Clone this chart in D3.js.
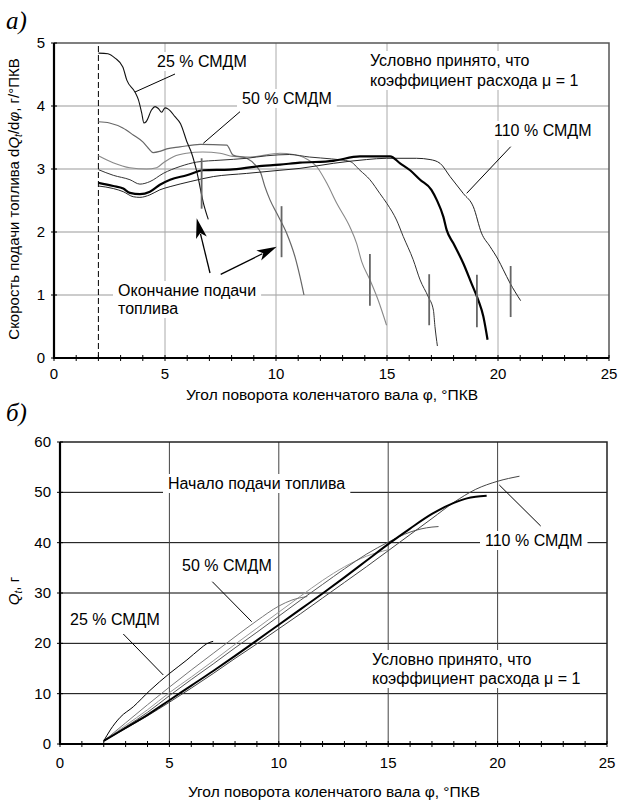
<!DOCTYPE html>
<html>
<head>
<meta charset="utf-8">
<script src="https://cdn.jsdelivr.net/npm/d3@7"></script>
<style>
  body { margin: 0; background: #fff; }
  text { font-family: "Liberation Sans", Arial, sans-serif; fill: #000; }
</style>
</head>
<body>
<script>
// axis ticks
var xTicks = [0, 5, 10, 15, 20, 25];
var rateTicks = [0, 1, 2, 3, 4, 5];
var massTicks = [0, 10, 20, 30, 40, 50, 60];

// а) injection rate dQ/dphi, g/deg
var rate25 = [[2,4.84],[2.43,4.83],[2.75,4.76],[3.1,4.62],[3.28,4.41],[3.65,4.22],[3.8,4.1],[3.95,3.89],[4.05,3.73],[4.15,3.75],[4.4,3.94],[4.55,3.99],[4.7,3.96],[4.85,3.9],[5.0,3.97],[5.15,3.95],[5.45,3.83],[5.7,3.72],[6.0,3.42],[6.2,3.25],[6.45,2.93],[6.73,2.46],[6.95,2.2]];
var rate50 = [[2,3.75],[2.5,3.73],[3.1,3.65],[3.57,3.54],[4.0,3.43],[4.25,3.33],[4.47,3.26],[4.77,3.28],[5.08,3.32],[5.67,3.35],[6.58,3.39],[7.78,3.38],[8.07,3.22],[8.68,3.17],[9.1,3.05],[9.3,2.95],[9.5,2.72],[9.73,2.51],[10.03,2.3],[10.48,1.98],[10.86,1.6],[11.08,1.29],[11.26,1.0]];
var rate3 = [[2,3.21],[2.66,3.1],[3.42,3.02],[4.17,3.0],[4.62,3.02],[4.93,3.1],[5.4,3.2],[5.97,3.25],[6.7,3.27],[7.48,3.25],[8.07,3.2],[8.83,3.19],[10.18,3.25],[10.78,3.23],[11.38,3.16],[11.83,3.04],[12.28,2.78],[12.73,2.46],[13.33,2.08],[13.63,1.82],[13.86,1.53],[14.23,1.24],[14.6,0.92],[14.98,0.52]];
var rate4 = [[2,2.99],[2.67,2.9],[3.42,2.83],[3.87,2.76],[4.32,2.8],[4.92,2.93],[5.68,3.04],[6.43,3.11],[7.48,3.14],[8.68,3.17],[9.58,3.21],[10.6,3.23],[11.5,3.19],[12.5,3.16],[13.33,3.12],[13.78,2.98],[14.23,2.83],[14.68,2.61],[15.0,2.45],[15.43,2.19],[15.73,1.93],[16.18,1.56],[16.49,1.24],[16.86,0.97],[17.09,0.76],[17.16,0.5],[17.27,0.19]];
var rate100 = [[2,2.78],[2.67,2.73],[3.12,2.69],[3.42,2.62],[3.87,2.6],[4.32,2.64],[4.77,2.75],[5.23,2.83],[5.98,2.9],[6.73,2.98],[7.93,2.99],[9.13,3.04],[10.18,3.07],[11.08,3.1],[12.58,3.13],[13.78,3.2],[15.14,3.2],[15.59,3.09],[16.04,2.98],[16.49,2.83],[17.0,2.67],[17.24,2.51],[17.54,2.24],[17.69,2.03],[17.99,1.82],[18.44,1.5],[18.81,1.18],[19.11,0.92],[19.34,0.66],[19.53,0.29]];
var rate110 = [[2,2.73],[2.67,2.69],[3.12,2.64],[3.57,2.56],[3.87,2.55],[4.32,2.59],[4.77,2.67],[5.23,2.72],[6.13,2.8],[7.18,2.88],[8.68,2.93],[10.18,2.98],[11.08,3.01],[12.58,3.09],[14.08,3.15],[14.98,3.17],[16.33,3.17],[16.94,3.15],[17.39,3.09],[17.84,2.88],[18.44,2.61],[18.89,2.4],[19.26,1.98],[19.64,1.77],[20.01,1.56],[20.24,1.4],[20.54,1.19],[20.77,1.05],[21.02,0.91]];
// end of injection marks: [phi, rate low, rate high]
var endMarks = [[6.65,2.37,3.17],[10.25,1.6,2.41],[14.23,0.83,1.65],[16.9,0.52,1.33],[19.05,0.49,1.32],[20.57,0.65,1.46]];
var startPhi = 2;

// б) cumulative fuel Q, g
var mass25 = [[2,0.6],[2.3,2.8],[2.75,5.3],[3.35,7.4],[4.1,10.6],[5.0,14.0],[5.8,16.7],[6.4,18.9],[6.7,19.9],[7.0,20.4]];
var mass50 = [[2,0.6],[3,4.2],[4,7.8],[5,11.3],[6,14.7],[7,18.0],[8,21.3],[9,24.5],[10,27.4],[10.6,28.6],[11.3,29.3]];
var mass3 = [[2,0.6],[3,3.7],[4,6.8],[5,10.2],[6,13.3],[7,16.5],[8,19.8],[9,23.0],[10,26.2],[11,29.4],[12,32.5],[13,35.2],[14,37.3],[15,38.6]];
var mass4 = [[2,0.6],[3,3.4],[4,6.3],[5,9.6],[6,12.8],[7,15.9],[8,19.1],[9,22.2],[10,25.4],[11,28.6],[12,31.7],[13,34.8],[14,37.7],[15,40.1],[16,42.1],[17,43.1],[17.3,43.2]];
var mass100 = [[2,0.6],[3,3.2],[4,5.8],[5,8.7],[6,11.6],[7,14.5],[8,17.5],[9,20.6],[10,23.7],[11,26.8],[12,29.9],[13,33.1],[14,36.4],[15,39.7],[16,42.8],[17,45.7],[18,47.9],[18.6,48.8],[19,49.1],[19.5,49.3]];
var mass110 = [[2,0.6],[3,3.1],[4,5.6],[5,8.3],[6,11.1],[7,14.0],[8,17.0],[9,19.9],[10,22.9],[11,25.9],[12,29.0],[13,32.1],[14,35.2],[15,38.4],[16,41.6],[17,44.8],[18,48.0],[19,50.6],[20,52.2],[21,53.2]];

var svg = d3.select("body").append("svg")
    .attr("width", 618)
    .attr("height", 800);

var xA = d3.scaleLinear().domain([0, 25]).range([54, 609]);
var yA = d3.scaleLinear().domain([0, 5]).range([358, 43]);
var xB = d3.scaleLinear().domain([0, 25]).range([60, 607]);
var yB = d3.scaleLinear().domain([0, 60]).range([744, 442]);

function label(g, lines, x, y, dy, size) {
    var t = g.append("text").attr("x", x).attr("y", y).style("font-size", size + "px");
    lines.forEach(function(s, i) {
        t.append("tspan").attr("x", x).attr("dy", i == 0 ? 0 : dy).text(s);
    });
    var b = t.node().getBBox();
    g.insert("rect", "text:last-child")
        .attr("x", b.x - 5).attr("y", b.y - 1)
        .attr("width", b.width + 10).attr("height", b.height + 2)
        .attr("fill", "#fff");
    return t;
}

function leader(g, x1, y1, x2, y2) {
    g.append("line").attr("x1", x1).attr("y1", y1).attr("x2", x2).attr("y2", y2)
        .attr("stroke", "#000").attr("stroke-width", 1);
}

function arrow(g, x1, y1, x2, y2) {
    var dx = x2 - x1, dy = y2 - y1, len = Math.sqrt(dx*dx + dy*dy);
    var ux = dx / len, uy = dy / len, hl = 20, hw = 5.5;
    var bx = x2 - ux * hl, by = y2 - uy * hl;
    g.append("line").attr("x1", x1).attr("y1", y1).attr("x2", bx + ux*4).attr("y2", by + uy*4)
        .attr("stroke", "#000").attr("stroke-width", 1.3);
    g.append("polygon")
        .attr("points", [[x2, y2], [bx - uy*hw, by + ux*hw], [bx + ux*5, by + uy*5], [bx + uy*hw, by - ux*hw]].join(" "))
        .attr("fill", "#000");
}

function panel(x, y, xt, yt, gridCol, vGridCol, frameCol) {
    var g = svg.append("g");
    // grid
    g.selectAll(".hg").data(yt.slice(1, -1)).enter().append("line")
        .attr("x1", x.range()[0]).attr("x2", x.range()[1])
        .attr("y1", d => y(d)).attr("y2", d => y(d))
        .attr("stroke", gridCol).attr("stroke-width", 1);
    g.selectAll(".vg").data(xt.slice(1, -1)).enter().append("line")
        .attr("y1", y.range()[0]).attr("y2", y.range()[1])
        .attr("x1", d => x(d)).attr("x2", d => x(d))
        .attr("stroke", vGridCol).attr("stroke-width", 1);
    // frame top/right
    g.append("path")
        .attr("d", "M" + x.range()[0] + "," + y.range()[1] + "H" + x.range()[1] + "V" + y.range()[0])
        .attr("fill", "none").attr("stroke", frameCol).attr("stroke-width", 1.5);
    return g;
}

function axes(g, x, y, xt, yt, xLabY) {
    var x0 = x.range()[0], y0 = y.range()[0];
    // minor ticks on x
    g.selectAll(".mt").data(d3.range(xt[0], xt[xt.length-1] + 1)).enter().append("line")
        .attr("x1", d => x(d)).attr("x2", d => x(d))
        .attr("y1", y0 - 3).attr("y2", y0 + 3)
        .attr("stroke", "#000");
    g.selectAll(".yt").data(yt).enter().append("line")
        .attr("x1", x0 - 3).attr("x2", x0 + 3)
        .attr("y1", d => y(d)).attr("y2", d => y(d))
        .attr("stroke", "#000");
    g.append("path")
        .attr("d", "M" + x0 + "," + y.range()[1] + "V" + y0 + "H" + x.range()[1])
        .attr("fill", "none").attr("stroke", "#000").attr("stroke-width", 2.2);
    g.selectAll(".xl").data(xt).enter().append("text")
        .attr("x", d => x(d)).attr("y", xLabY)
        .attr("text-anchor", "middle").style("font-size", "15px")
        .text(d => d);
    g.selectAll(".yl").data(yt).enter().append("text")
        .attr("x", x0 - 9).attr("y", d => y(d) + 5)
        .attr("text-anchor", "end").style("font-size", "15px")
        .text(d => d);
}

var lineA = d3.line().curve(d3.curveMonotoneX).x(d => xA(d[0])).y(d => yA(d[1]));
var lineB = d3.line().curve(d3.curveMonotoneX).x(d => xB(d[0])).y(d => yB(d[1]));

// ---------- panel а)
var gA = panel(xA, yA, xTicks, rateTicks, "#999", "#aaa", "#555");

label(gA, ["25 % СМДМ"], 157, 67, 0, 16);
label(gA, ["50 % СМДМ"], 242, 104, 0, 16);
label(gA, ["Условно принято, что", "коэффициент расхода μ = 1"], 370, 66, 20, 16);
label(gA, ["110 % СМДМ"], 494, 136, 0, 16);
label(gA, ["Окончание подачи", "топлива"], 118, 296, 18, 16);

gA.append("line")
    .attr("x1", xA(startPhi)).attr("x2", xA(startPhi))
    .attr("y1", yA(0)).attr("y2", yA(5))
    .attr("stroke", "#000").attr("stroke-width", 1).attr("stroke-dasharray", "6,3");

var seriesA = [
    {d: rate3, c: "#888", w: 1.1},
    {d: rate50, c: "#666", w: 1.2},
    {d: rate4, c: "#333", w: 1},
    {d: rate110, c: "#222", w: 1},
    {d: rate100, c: "#000", w: 2.2},
    {d: rate25, c: "#111", w: 1.1}
];
gA.selectAll(".ca").data(seriesA).enter().append("path")
    .attr("d", s => lineA(s.d))
    .attr("fill", "none").attr("stroke", s => s.c).attr("stroke-width", s => s.w);

gA.selectAll(".em").data(endMarks).enter().append("line")
    .attr("x1", d => xA(d[0])).attr("x2", d => xA(d[0]))
    .attr("y1", d => yA(d[1])).attr("y2", d => yA(d[2]))
    .attr("stroke", "#666").attr("stroke-width", 1.8);

leader(gA, 175, 74, 135, 92);
leader(gA, 240, 111.7, 203.3, 143.3);
leader(gA, 510.7, 146.7, 466.7, 193.3);
arrow(gA, 210, 273, 196.7, 218.3);
arrow(gA, 220.7, 274.3, 276.7, 246.7);

axes(gA, xA, yA, xTicks, rateTicks, 379);

svg.append("text").attr("x", 332).attr("y", 400).attr("text-anchor", "middle")
    .style("font-size", "15.5px").text("Угол поворота коленчатого вала φ, °ПКВ");

var tyA = svg.append("text").attr("transform", "translate(19,199) rotate(-90)")
    .attr("text-anchor", "middle").style("font-size", "15px");
tyA.append("tspan").text("Скорость подачи топлива d");
tyA.append("tspan").style("font-style", "italic").text("Q");
tyA.append("tspan").style("font-style", "italic").style("font-size", "10px").attr("dy", 3).text("t");
tyA.append("tspan").attr("dy", -3).text("/d");
tyA.append("tspan").style("font-style", "italic").text("φ");
tyA.append("tspan").text(", г/°ПКВ");

svg.append("text").attr("x", 6).attr("y", 29)
    .style("font-family", "'Liberation Serif', 'Times New Roman', serif")
    .style("font-style", "italic").style("font-size", "25px").text("а)");

// ---------- panel б)
var gB = panel(xB, yB, xTicks, massTicks, "#000", "#444", "#222");

label(gB, ["Начало подачи топлива"], 168, 489, 0, 16);
label(gB, ["110 % СМДМ"], 485, 546, 0, 16);
label(gB, ["50 % СМДМ"], 182, 571, 0, 16);
label(gB, ["25 % СМДМ"], 70, 625, 0, 16);
label(gB, ["Условно принято, что", "коэффициент расхода μ = 1"], 372, 665, 19, 16);

var seriesB = [
    {d: mass3, c: "#999", w: 1},
    {d: mass50, c: "#777", w: 1},
    {d: mass4, c: "#555", w: 1},
    {d: mass110, c: "#444", w: 1},
    {d: mass100, c: "#000", w: 2},
    {d: mass25, c: "#000", w: 1}
];
gB.selectAll(".cb").data(seriesB).enter().append("path")
    .attr("d", s => lineB(s.d))
    .attr("fill", "none").attr("stroke", s => s.c).attr("stroke-width", s => s.w);

leader(gB, 540.7, 526, 499.3, 485);
leader(gB, 212.3, 581.7, 251.7, 621.7);
leader(gB, 123.3, 634, 163.3, 675);

axes(gB, xB, yB, xTicks, massTicks, 768);

svg.append("text").attr("x", 334).attr("y", 797).attr("text-anchor", "middle")
    .style("font-size", "15.5px").text("Угол поворота коленчатого вала φ, °ПКВ");

var tyB = svg.append("text").attr("transform", "translate(19,591) rotate(-90)")
    .attr("text-anchor", "middle").style("font-size", "15px");
tyB.append("tspan").style("font-style", "italic").text("Q");
tyB.append("tspan").style("font-style", "italic").style("font-size", "10px").attr("dy", 3).text("t");
tyB.append("tspan").attr("dy", -3).text(", г");

svg.append("text").attr("x", 6).attr("y", 421)
    .style("font-family", "'Liberation Serif', 'Times New Roman', serif")
    .style("font-style", "italic").style("font-size", "25px").text("б)");
</script>
</body>
</html>
